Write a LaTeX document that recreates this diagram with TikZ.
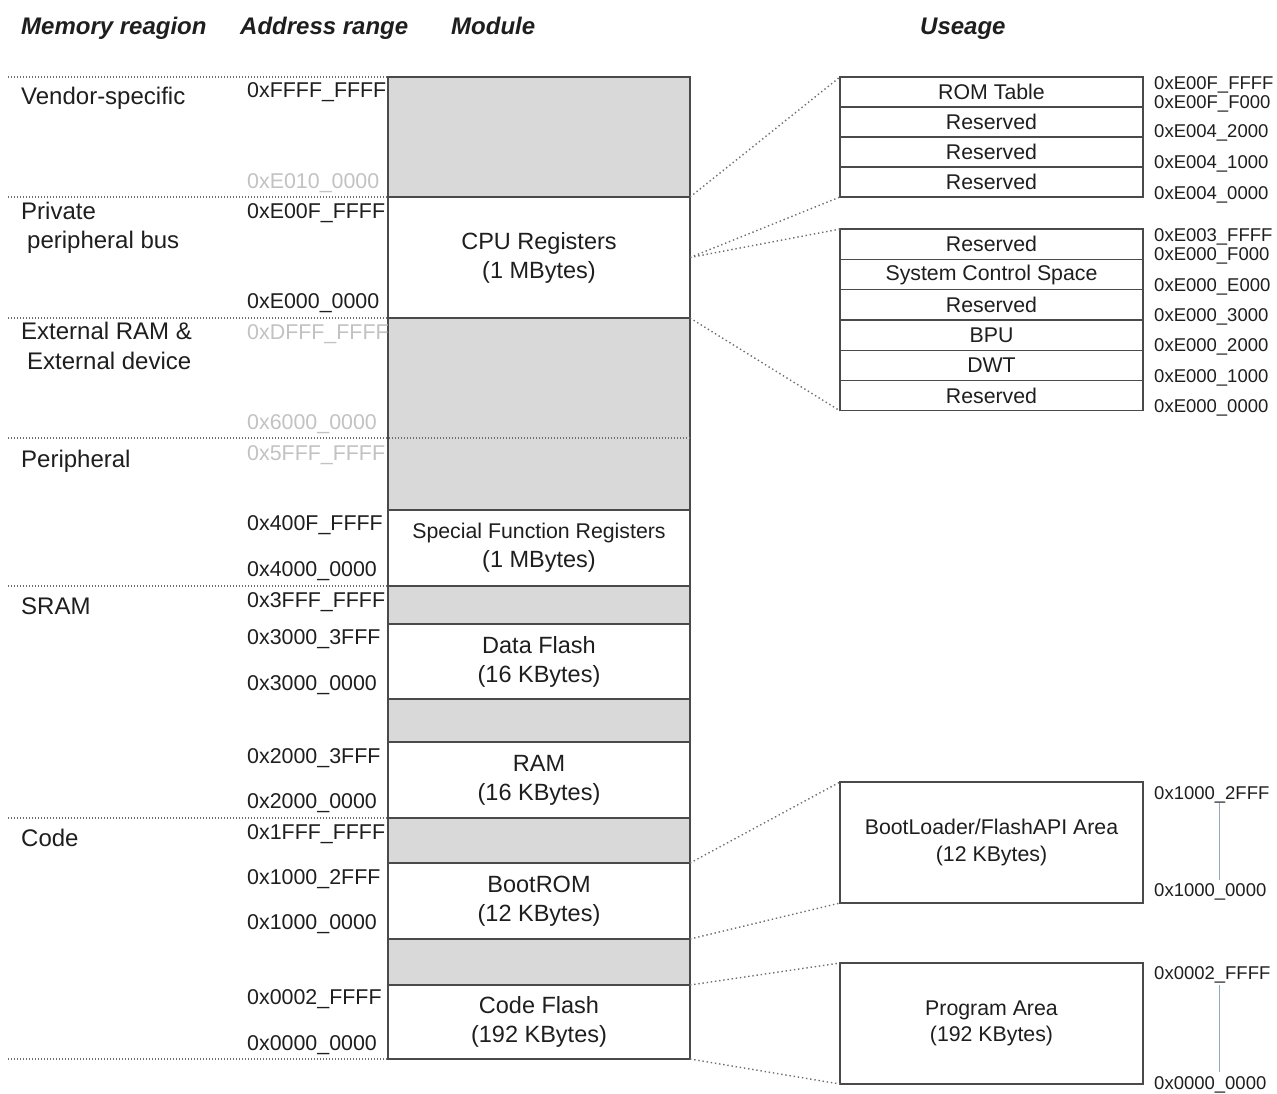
\documentclass[tikz,border=0pt]{standalone}
\usepackage{fontspec}
\setmainfont{Liberation Sans}
\definecolor{txt}{HTML}{1E1E1E}
\definecolor{faint}{HTML}{C2C2C2}
\definecolor{hatch}{HTML}{D9D9D9}
\definecolor{frame}{HTML}{4A4A4A}
\definecolor{dots}{HTML}{6E6E6E}
\definecolor{vline}{HTML}{8FA8BF}
\begin{document}
\begin{tikzpicture}[x=1pt,y=-1pt,
  modbox/.style={draw=frame, line width=1.3pt, minimum width=302pt, inner sep=0pt, outer sep=0pt, align=center, text=txt, font=\fontsize{23.5}{29}\selectfont},
  hbox/.style={modbox, fill=hatch},
  rowbox/.style={draw=frame, line width=1.2pt, minimum width=303pt, minimum height=30.3pt, inner sep=0pt, outer sep=0pt, text=txt, font=\fontsize{21.3}{24}\selectfont},
  bigbox/.style={draw=frame, line width=1.2pt, minimum width=303pt, minimum height=121pt, inner sep=0pt, outer sep=0pt, align=center, text=txt},
  addr/.style={anchor=west, inner sep=0pt, text=txt, font=\fontsize{21.4}{24}\selectfont, text height=15.4pt, text depth=0pt},
  faddr/.style={addr, text=faint},
  raddr/.style={anchor=west, inner sep=0pt, text=txt, font=\fontsize{18.5}{20}\selectfont, text height=13.3pt, text depth=0pt},
  reg/.style={anchor=west, inner sep=0pt, text=txt, font=\fontsize{24}{26}\selectfont, text height=17.2pt, text depth=0pt},
  head/.style={anchor=west, inner sep=0pt, text=txt, font=\fontsize{24}{26}\selectfont\bfseries\itshape, text height=17.2pt, text depth=0pt},
  sepline/.style={draw=dots, line width=1.3pt, dash pattern=on 1.3pt off 1.7pt},
  conn/.style={draw=dots, line width=1.4pt, dash pattern=on 1.4pt off 2.8pt},
  vl/.style={draw=vline, line width=1pt}]
\useasboundingbox (0,0) rectangle (1277,1093);
% headers
\node[head] (h1) at (21,26) {Memory reagion};
\node[head] (h2) at (240,26) {Address range};
\node[head] (h3) at (451,26) {Module};
\node[head] (h4) at (920,26) {Useage};
% main column
\node[hbox, minimum height=120pt] (vend) at (539,137) {};
\node[modbox, minimum height=121pt] (cpu) at (539,257.5) {CPU Registers\\(1 MBytes)};
\node[hbox, minimum height=192pt] (extper) at (539,414) {};
\node[modbox, minimum height=76pt] (sfr) at (539,548) {{\fontsize{21.3}{28}\selectfont Special Function Registers}\\(1 MBytes)};
\node[hbox, minimum height=38pt] (g1) at (539,605) {};
\node[modbox, minimum height=75pt] (df) at (539,661.5) {Data Flash\\(16 KBytes)};
\node[hbox, minimum height=43pt] (g2) at (539,720.5) {};
\node[modbox, minimum height=76pt] (ram) at (539,780) {RAM\\(16 KBytes)};
\node[hbox, minimum height=45pt] (g3) at (539,840.5) {};
\node[modbox, minimum height=76pt] (boot) at (539,901) {BootROM\\(12 KBytes)};
\node[hbox, minimum height=46pt] (g4) at (539,962) {};
\node[modbox, minimum height=74pt] (flash) at (539,1022) {Code Flash\\(192 KBytes)};
% region separators
\coordinate (s0) at (8,77);
\coordinate (s1) at (8,197);
\coordinate (s2) at (8,318);
\coordinate (s3) at (8,438);
\coordinate (s3e) at (690,438);
\coordinate (s4) at (8,586);
\coordinate (s5) at (8,818);
\coordinate (s6) at (8,1059);
\draw[sepline] (s0) -- (vend.north west);
\draw[sepline] (s1) -- (cpu.north west);
\draw[sepline] (s2) -- (cpu.south west);
\draw[sepline] (s3) -- (s3e);
\draw[sepline] (s4) -- (sfr.south west);
\draw[sepline] (s5) -- (ram.south west);
\draw[sepline] (s6) -- (flash.south west);
% region labels
\node[reg] (r1) at (21,96) {Vendor-specific};
\node[reg] (r2a) at (21,211) {Private};
\node[reg] (r2b) at (27,240) {peripheral bus};
\node[reg] (r3a) at (21,331) {External RAM \&};
\node[reg] (r3b) at (27,361) {External device};
\node[reg] (r4) at (21,459) {Peripheral};
\node[reg] (r5) at (21,606) {SRAM};
\node[reg] (r6) at (21,838) {Code};
% address labels
\node[addr] (a1) at (247,90) {0xFFFF\_FFFF};
\node[faddr] (a2) at (247,181) {0xE010\_0000};
\node[addr] (a3) at (247,211) {0xE00F\_FFFF};
\node[addr] (a4) at (247,301) {0xE000\_0000};
\node[faddr] (a5) at (247,332) {0xDFFF\_FFFF};
\node[faddr] (a6) at (247,422) {0x6000\_0000};
\node[faddr] (a7) at (247,453) {0x5FFF\_FFFF};
\node[addr] (a8) at (247,523) {0x400F\_FFFF};
\node[addr] (a9) at (247,569) {0x4000\_0000};
\node[addr] (a10) at (247,600) {0x3FFF\_FFFF};
\node[addr] (a11) at (247,637) {0x3000\_3FFF};
\node[addr] (a12) at (247,683) {0x3000\_0000};
\node[addr] (a13) at (247,756) {0x2000\_3FFF};
\node[addr] (a14) at (247,801) {0x2000\_0000};
\node[addr] (a15) at (247,832) {0x1FFF\_FFFF};
\node[addr] (a16) at (247,877) {0x1000\_2FFF};
\node[addr] (a17) at (247,922) {0x1000\_0000};
\node[addr] (a18) at (247,997) {0x0002\_FFFF};
\node[addr] (a19) at (247,1043) {0x0000\_0000};
% table 1
\node[rowbox, minimum height=30pt] (t1a) at (991.5,92) {ROM Table};
\node[rowbox, minimum height=30pt] (t1b) at (991.5,122) {Reserved};
\node[rowbox, minimum height=30pt] (t1c) at (991.5,152) {Reserved};
\node[rowbox, minimum height=30pt] (t1d) at (991.5,182) {Reserved};
% table 2
\node[rowbox] (t2a) at (991.5,244.2) {Reserved};
\node[rowbox] (t2b) at (991.5,274.5) {System Control Space};
\node[rowbox] (t2c) at (991.5,304.8) {Reserved};
\node[rowbox] (t2d) at (991.5,335.1) {BPU};
\node[rowbox] (t2e) at (991.5,365.4) {DWT};
\node[rowbox] (t2f) at (991.5,395.7) {Reserved};
% right address labels
\node[raddr] (b1) at (1154,83) {0xE00F\_FFFF};
\node[raddr] (b2) at (1154,102) {0xE00F\_F000};
\node[raddr] (b3) at (1154,131) {0xE004\_2000};
\node[raddr] (b4) at (1154,162) {0xE004\_1000};
\node[raddr] (b5) at (1154,193) {0xE004\_0000};
\node[raddr] (c1) at (1154,235) {0xE003\_FFFF};
\node[raddr] (c2) at (1154,254) {0xE000\_F000};
\node[raddr] (c3) at (1154,285) {0xE000\_E000};
\node[raddr] (c4) at (1154,315) {0xE000\_3000};
\node[raddr] (c5) at (1154,345) {0xE000\_2000};
\node[raddr] (c6) at (1154,376) {0xE000\_1000};
\node[raddr] (c7) at (1154,406) {0xE000\_0000};
% bottom boxes
\node[bigbox, font=\fontsize{21.3}{27}\selectfont] (bl) at (991.5,842.5) {BootLoader/FlashAPI Area\\(12 KBytes)};
\node[bigbox, font=\fontsize{21.3}{26}\selectfont] (pa) at (991.5,1023.5) {Program Area\\(192 KBytes)};
\node[raddr] (d1) at (1154,793) {0x1000\_2FFF};
\node[raddr] (d2) at (1154,890) {0x1000\_0000};
\node[raddr] (d3) at (1154,973) {0x0002\_FFFF};
\node[raddr] (d4) at (1154,1083) {0x0000\_0000};
\coordinate (v1t) at (1219,803);
\coordinate (v1b) at (1219,880);
\coordinate (v2t) at (1219,985);
\coordinate (v2b) at (1219,1072);
\draw[vl] (v1t) -- (v1b);
\draw[vl] (v2t) -- (v2b);
% connectors
\draw[conn] (vend.south east) -- (t1a.north west);
\draw[conn] (cpu.east) -- (t1d.south west);
\draw[conn] (cpu.east) -- (t2a.north west);
\draw[conn] (cpu.south east) -- (t2f.south west);
\draw[conn] (boot.north east) -- (bl.north west);
\draw[conn] (boot.south east) -- (bl.south west);
\draw[conn] (flash.north east) -- (pa.north west);
\draw[conn] (flash.south east) -- (pa.south west);
\end{tikzpicture}
\end{document}
